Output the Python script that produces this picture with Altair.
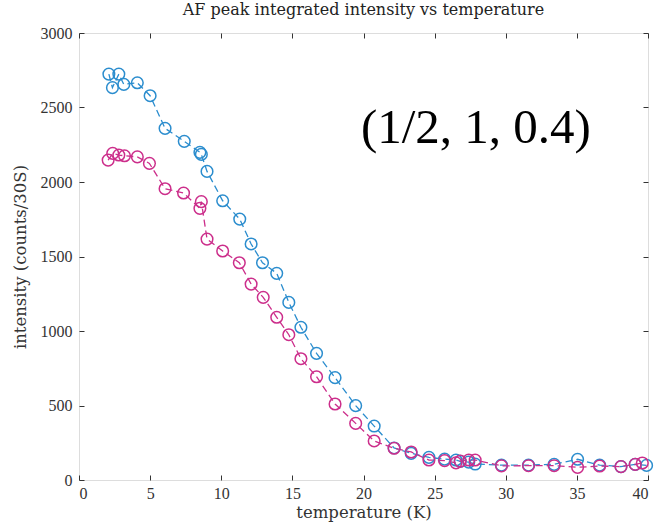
import altair as alt
import pandas as pd

# temperature (K) and integrated intensity (counts/30S)
blue_T = [2.1, 2.35, 2.8, 3.15, 4.1, 5.0, 6.05, 7.4, 8.5, 8.6, 9.0, 10.1, 11.3, 12.1, 12.9, 13.9,
          14.75, 15.6, 16.7, 18.0, 19.45, 20.75, 22.15, 23.35, 24.6, 25.7, 26.5, 26.8, 27.4, 27.85,
          29.7, 31.6, 33.4, 35.05, 36.6, 38.1, 39.1, 39.9]
blue_I = [2724, 2633, 2724, 2655, 2666, 2579, 2360, 2273, 2199, 2185, 2071, 1874, 1751, 1584, 1458, 1387,
          1192, 1025, 850, 687, 499, 362, 215, 179, 152, 140, 134, 125, 120, 107,
          100, 100, 105, 139, 100, 90, 105, 98]

red_T = [2.05, 2.37, 2.8, 3.2, 4.1, 4.95, 6.05, 7.35, 8.5, 8.6, 9.0, 10.1, 11.27, 12.1, 12.95, 13.9,
         14.75, 15.6, 16.7, 18.0, 19.45, 20.75, 22.15, 23.35, 24.6, 25.7, 26.5, 26.8, 27.4, 27.85,
         29.7, 31.6, 33.4, 35.05, 36.6, 38.1, 39.1, 39.6]
red_I = [2147, 2192, 2181, 2176, 2169, 2125, 1955, 1926, 1823, 1868, 1617, 1537, 1458, 1315, 1226, 1092,
         975, 814, 693, 510, 380, 262, 213, 188, 134, 130, 115, 127, 134, 134,
         95, 96, 96, 85, 94, 90, 105, 114]

series_names = ["s1", "s2"]
series_colors = ["#2B8DCE", "#CC2E8B"]

x_ticks = [0, 5, 10, 15, 20, 25, 30, 35, 40]
y_ticks = [0, 500, 1000, 1500, 2000, 2500, 3000]

annot_text = ["(1/2, 1, 0.4)"]
annot_x = [27.9]
annot_y = [2265]

rows = []
for i, (t, v) in enumerate(zip(blue_T, blue_I)):
    rows.append({"T": t, "I": v, "series": "s1", "o": i})
for i, (t, v) in enumerate(zip(red_T, red_I)):
    rows.append({"T": t, "I": v, "series": "s2", "o": i})
df = pd.DataFrame(rows)

ann = pd.DataFrame({"T": annot_x, "I": annot_y, "label": annot_text})

LAB_FONT = "Liberation Serif"
TIT_FONT = "DejaVu Serif"

xscale = alt.Scale(domain=[0, 40], nice=False, zero=False)
yscale = alt.Scale(domain=[0, 3000], nice=False)
color = alt.Color("series:N", scale=alt.Scale(domain=series_names, range=series_colors), legend=None)

x_bottom = alt.X("T:Q", scale=xscale, axis=alt.Axis(
    title="temperature (K)", values=x_ticks, format="d", grid=False, domain=False, offset=-5, tickSize=5,
    tickColor="#333", labelFont=LAB_FONT, labelFontSize=16, labelColor="#333", labelPadding=5,
    titleFont=TIT_FONT, titleFontSize=16.5, titleFontWeight="normal", titleColor="#333", titlePadding=3))
y_left = alt.Y("I:Q", scale=yscale, axis=alt.Axis(
    title="intensity (counts/30S)", values=y_ticks, format="d", grid=False, domain=False, offset=-5, tickSize=5,
    tickColor="#333", labelFont=LAB_FONT, labelFontSize=16, labelColor="#333", labelPadding=7,
    titleFont=TIT_FONT, titleFontSize=16.5, titleFontWeight="normal", titleColor="#333", titlePadding=12))

base = alt.Chart(df)

lines = base.mark_line(strokeDash=[7, 4], strokeWidth=1.3).encode(
    x=x_bottom, y=y_left, color=color, detail="series:N", order="o:Q")

points = base.mark_point(shape="circle", filled=False, size=135, strokeWidth=1.5, opacity=1).encode(
    x=alt.X("T:Q", scale=xscale, axis=None), y=alt.Y("I:Q", scale=yscale, axis=None), color=color)

frame_axes = base.mark_point(opacity=0).encode(
    x=alt.X("T:Q", scale=xscale, axis=alt.Axis(orient="top", values=x_ticks, labels=False, title=None,
                                               grid=False, domain=False, offset=-5, tickSize=5, tickColor="#333")),
    y=alt.Y("I:Q", scale=yscale, axis=alt.Axis(orient="right", values=y_ticks, labels=False, title=None,
                                               grid=False, domain=False, offset=-5, tickSize=5, tickColor="#333")))

text = alt.Chart(ann).mark_text(font=LAB_FONT, fontSize=49, align="center", baseline="alphabetic",
                                color="black").encode(
    x=alt.X("T:Q", scale=xscale, axis=None), y=alt.Y("I:Q", scale=yscale, axis=None), text="label:N")

chart = alt.layer(lines, points, frame_axes, text).resolve_axis(
    x="independent", y="independent"
).properties(
    width=569, height=447,
    padding={"left": 79, "top": 33, "right": 11, "bottom": 48},
    autosize=alt.AutoSizeParams(type="none"),
    title=alt.TitleParams("AF peak integrated intensity vs temperature", font=TIT_FONT, fontSize=16,
                          fontWeight="normal", color="#222", offset=7, anchor="middle"),
).configure_view(stroke="#333", strokeWidth=1.2).configure(background="white")

chart.save("out.html", embed_options={"renderer": "svg", "actions": False})
